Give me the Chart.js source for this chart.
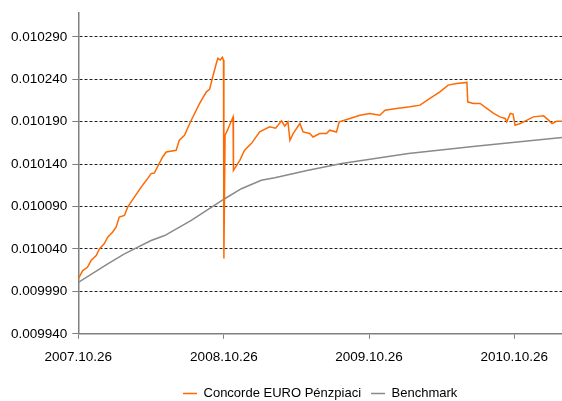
<!DOCTYPE html>
<html>
<head>
<meta charset="utf-8">
<script src="https://cdn.jsdelivr.net/npm/chart.js@4/dist/chart.umd.min.js"></script>
<style>
  html, body { margin: 0; padding: 0; background: #fff; }
  #wrap { width: 562px; height: 401px; }
</style>
</head>
<body>
<div id="wrap"><canvas id="chart"></canvas></div>
<script>
// sorozatok neve
const SERIES_NAMES = ['Concorde EURO Pénzpiaci', 'Benchmark'];

// x tengely feliratai (dátumok), napok 2007.10.26 óta
const X_TICK_LABELS = ['2007.10.26', '2008.10.26', '2009.10.26', '2010.10.26'];
const X_MAX_DAY = 1216;

// y tengely osztásai
const Y_TICKS = [0.009940, 0.009990, 0.010040, 0.010090, 0.010140, 0.010190, 0.010240, 0.010290];
const Y_MIN = 0.009940;
const Y_MAX = 0.010318;

// Concorde EURO Pénzpiaci árfolyam (nap, érték)
const fundDays = [
    0, 11, 23, 32, 45, 53, 65, 74, 86, 95,
    103, 116, 124, 141, 158, 171, 183, 191, 212, 221,
    246, 254, 267, 280, 305, 322, 330, 338, 347, 351,
    357, 362, 365, 366, 369, 375, 389, 390, 406, 418,
    435, 456, 481, 496, 511, 519, 527, 532, 540, 557,
    565, 582, 590, 607, 624, 632, 649, 656, 683, 708,
    733, 758, 771, 800, 834, 859, 884, 909, 930, 951,
    977, 979, 993, 1010, 1027, 1044, 1060, 1073, 1077, 1086,
    1093, 1098, 1111, 1128, 1144, 1170, 1182, 1191, 1203, 1216
];
const fundValues = [
    0.0100050, 0.0100145, 0.0100184, 0.0100263, 0.0100322, 0.0100401, 0.0100460, 0.0100538, 0.0100597, 0.0100656,
    0.0100775, 0.0100795, 0.0100893, 0.0101011, 0.0101129, 0.0101209, 0.0101288, 0.0101295, 0.0101484, 0.0101543,
    0.0101563, 0.0101681, 0.0101740, 0.0101879, 0.0102115, 0.0102252, 0.0102281, 0.0102430, 0.0102588, 0.0102647,
    0.0102627, 0.0102659, 0.0102627, 0.0100287, 0.0101740, 0.0101800, 0.0101957, 0.0101327, 0.0101445, 0.0101563,
    0.0101642, 0.0101780, 0.0101839, 0.0101823, 0.0101910, 0.0101847, 0.0101898, 0.0101681, 0.0101760, 0.0101879,
    0.0101780, 0.0101761, 0.0101720, 0.0101761, 0.0101761, 0.0101800, 0.0101779, 0.0101898, 0.0101938, 0.0101977,
    0.0101997, 0.0101977, 0.0102036, 0.0102056, 0.0102075, 0.0102095, 0.0102174, 0.0102252, 0.0102331, 0.0102351,
    0.0102363, 0.0102134, 0.0102115, 0.0102115, 0.0102056, 0.0101997, 0.0101957, 0.0101938, 0.0101898, 0.0101997,
    0.0101990, 0.0101859, 0.0101879, 0.0101918, 0.0101957, 0.0101969, 0.0101918, 0.0101879, 0.0101906, 0.0101906
];

// Benchmark (nap, érték)
const benchDays = [0, 74, 116, 183, 217, 284, 368, 410, 460, 494, 578, 662, 830, 998, 1216];
const benchValues = [
    0.0100006, 0.0100224, 0.0100342, 0.0100500, 0.0100558, 0.0100736, 0.0100992, 0.0101110,
    0.0101209, 0.0101240, 0.0101327, 0.0101406, 0.0101524, 0.0101610, 0.0101713
];

const START = Date.UTC(2007, 9, 26);
const DAY = 86400000;

function labelToDay(s) {
    const p = s.split('.').map(Number);
    return Math.round((Date.UTC(p[0], p[1] - 1, p[2]) - START) / DAY);
}
function dayToLabel(d) {
    const dt = new Date(START + d * DAY);
    const mm = String(dt.getUTCMonth() + 1).padStart(2, '0');
    const dd = String(dt.getUTCDate()).padStart(2, '0');
    return dt.getUTCFullYear() + '.' + mm + '.' + dd;
}
const xTickDays = X_TICK_LABELS.map(labelToDay);

const FONT = "'Liberation Sans', Arial, sans-serif";

new Chart(document.getElementById('chart'), {
    type: 'line',
    data: {
        datasets: [
            {
                label: SERIES_NAMES[0],
                data: fundDays.map((d, i) => ({x: d, y: fundValues[i]})),
                borderColor: '#ff6a00',
                backgroundColor: '#ff6a00',
                borderWidth: 1.5,
                pointRadius: 0,
                tension: 0,
                fill: false
            },
            {
                label: SERIES_NAMES[1],
                data: benchDays.map((d, i) => ({x: d, y: benchValues[i]})),
                borderColor: '#8a8a8a',
                backgroundColor: '#8a8a8a',
                borderWidth: 1.5,
                pointRadius: 0,
                tension: 0,
                fill: false
            }
        ]
    },
    options: {
        responsive: true,
        maintainAspectRatio: false,
        animation: false,
        layout: { padding: { left: 6, right: 0, top: 6, bottom: -9 } },
        plugins: {
            tooltip: { enabled: false },
            legend: {
                position: 'bottom',
                fullSize: false,
                labels: {
                    usePointStyle: true,
                    pointStyle: 'line',
                    pointStyleWidth: 14,
                    padding: 10,
                    color: '#000',
                    font: { family: FONT, size: 13 }
                }
            }
        },
        scales: {
            x: {
                type: 'linear',
                min: 0,
                max: X_MAX_DAY,
                afterBuildTicks: axis => { axis.ticks = xTickDays.map(v => ({value: v})); },
                afterFit: axis => { axis.height += 2; },
                ticks: {
                    autoSkip: false,
                    maxRotation: 0,
                    padding: 10,
                    color: '#000',
                    font: { family: FONT, size: 13.5 },
                    callback: v => dayToLabel(v)
                },
                grid: {
                    drawOnChartArea: false,
                    drawTicks: true,
                    tickLength: 5,
                    tickColor: '#808080',
                    tickWidth: 1
                },
                border: { color: '#808080', width: 1.5 }
            },
            y: {
                min: Y_MIN,
                max: Y_MAX,
                afterBuildTicks: axis => { axis.ticks = Y_TICKS.map(v => ({value: v})); },
                ticks: {
                    padding: 5,
                    color: '#000',
                    font: { family: FONT, size: 13.5 },
                    callback: v => v.toFixed(6)
                },
                grid: {
                    color: '#222',
                    lineWidth: 1,
                    tickBorderDash: [],
                    tickLength: 6,
                    tickColor: '#808080'
                },
                border: { color: '#808080', width: 1.5, dash: [3, 2] }
            }
        }
    }
});
</script>
</body>
</html>
